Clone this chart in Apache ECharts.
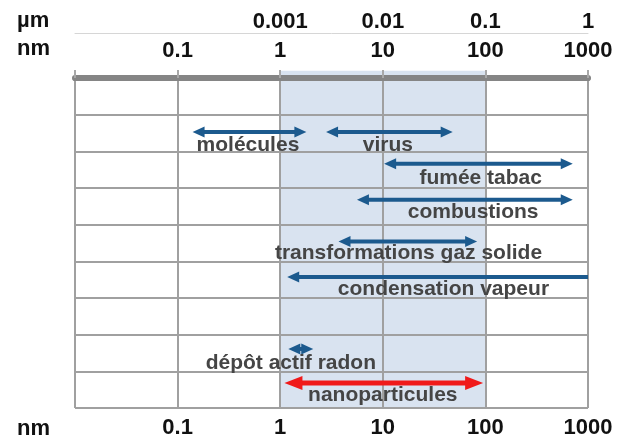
<!DOCTYPE html>
<html><head><meta charset="utf-8">
<script src="https://cdn.jsdelivr.net/npm/echarts@6/dist/echarts.min.js"></script>
<style>html,body{margin:0;padding:0;background:#fff}#c{width:621px;height:439px}</style>
</head><body><div id="c"></div>
<script>
// data (sizes in nm, rows counted from the top border)
const names = ['molécules','virus','fumée tabac','combustions','transformations gaz solide','condensation vapeur','dépôt actif radon','nanoparticules'];
const lows = [0.14, 2.8, 10.3, 5.6, 3.7, 1.17, 1.2, 1.1];
const highs = [1.8, 48, 710, 710, 83, 1000, 2.1, 95];
const arrowRows = [1.47, 1.47, 2.34, 3.32, 4.46, 5.43, 7.39, 8.32];
const leftHeads = [1, 1, 1, 1, 1, 1, 1, 1];
const rightHeads = [1, 1, 1, 1, 1, 0, 1, 1];
const labelX = [0.485, 11.2, 90, 76, 17.8, 39, 1.27, 10];
const labelRows = [1.84, 1.84, 2.73, 3.65, 4.77, 5.77, 7.78, 8.65];
const nmTicks = [0.1, 1, 10, 100, 1000];
const nmLabels = ['0.1', '1', '10', '100', '1000'];
const umTicks = [1, 10, 100, 1000];
const umLabels = ['0.001', '0.01', '0.1', '1'];
const nanoRange = [1, 100];
const rowCount = 9;

const FONT = "'Liberation Sans', Arial, sans-serif";
function lookup(ticks, labels) {
  return function (v) {
    for (let i = 0; i < ticks.length; i++) {
      if (Math.abs(Math.log10(v) - Math.log10(ticks[i])) < 1e-6) return labels[i];
    }
    return '';
  };
}
function arrowRenderer(hl, hw, lw) {
  return function (params, api) {
    const a = api.coord([api.value(0), api.value(2)]);
    const b = api.coord([api.value(1), api.value(2)]);
    const L = api.value(3), R = api.value(4);
    const col = api.visual('color');
    const ch = [{
      type: 'line',
      shape: { x1: a[0] + (L ? hl * 0.7 : 0), y1: a[1], x2: b[0] - (R ? hl * 0.7 : 0), y2: b[1] },
      style: { stroke: col, lineWidth: lw }
    }];
    if (L) ch.push({ type: 'polygon', shape: { points: [[a[0], a[1]], [a[0] + hl, a[1] - hw], [a[0] + hl, a[1] + hw]] }, style: { fill: col } });
    if (R) ch.push({ type: 'polygon', shape: { points: [[b[0], b[1]], [b[0] - hl, b[1] - hw], [b[0] - hl, b[1] + hw]] }, style: { fill: col } });
    return { type: 'group', children: ch };
  };
}
const blueData = [], redData = [], labelData = [];
for (let i = 0; i < names.length; i++) {
  const row = [lows[i], highs[i], arrowRows[i], leftHeads[i], rightHeads[i]];
  if (names[i] === 'nanoparticules') redData.push(row); else blueData.push(row);
  labelData.push([labelX[i], labelRows[i], i]);
}

const chart = echarts.init(document.getElementById('c'), null, { renderer: 'canvas' });
chart.setOption({
  animation: false,
  backgroundColor: '#fff',
  grid: { left: 75, right: 33, top: 78, bottom: 30 },
  graphic: [
    { type: 'text', left: 17, top: 10, style: { text: 'µm', fontSize: 22, fontWeight: 'bold', fontFamily: FONT, fill: '#111' } },
    { type: 'text', left: 17, top: 38, style: { text: 'nm', fontSize: 22, fontWeight: 'bold', fontFamily: FONT, fill: '#111' } },
    { type: 'text', left: 17, top: 418, style: { text: 'nm', fontSize: 22, fontWeight: 'bold', fontFamily: FONT, fill: '#111' } }
  ],
  xAxis: [
    {
      type: 'log', logBase: 10, min: 0.01, max: 1000, position: 'bottom',
      axisLine: { show: true, lineStyle: { color: '#858585', width: 5 } },
      axisTick: { show: false },
      axisLabel: { margin: 9, fontSize: 22, fontWeight: 'bold', color: '#111', fontFamily: FONT, formatter: lookup(nmTicks, nmLabels) },
      splitLine: { show: true, lineStyle: { color: '#a0a0a0', width: 2 } }
    },
    {
      type: 'log', logBase: 10, min: 0.01, max: 1000, position: 'top',
      axisLine: { show: true, lineStyle: { color: '#858585', width: 6 } },
      axisTick: { show: true, length: 8, lineStyle: { color: '#a8a8a8', width: 2 } },
      axisLabel: { margin: 16, fontSize: 22, fontWeight: 'bold', color: '#111', fontFamily: FONT, formatter: lookup(nmTicks, nmLabels) },
      splitLine: { show: false }
    },
    {
      type: 'log', logBase: 10, min: 0.01, max: 1000, position: 'top', offset: 45,
      axisLine: { show: true, lineStyle: { color: '#d6d6d6', width: 1 } },
      axisTick: { show: false },
      axisLabel: { margin: 0, fontSize: 22, fontWeight: 'bold', color: '#111', fontFamily: FONT, formatter: lookup(umTicks, umLabels) },
      splitLine: { show: false }
    }
  ],
  yAxis: {
    type: 'value', min: 0, max: rowCount, interval: 1, inverse: true,
    axisLine: { show: false }, axisTick: { show: false }, axisLabel: { show: false },
    splitLine: { show: true, lineStyle: { color: '#a0a0a0', width: 2 } }
  },
  series: [
    {
      type: 'custom', z: -1, silent: true,
      data: [[nanoRange[0], nanoRange[1]]],
      encode: { x: [0, 1] },
      renderItem: function (params, api) {
        const a = api.coord([api.value(0), -0.2]);
        const b = api.coord([api.value(1), rowCount]);
        return { type: 'rect', shape: { x: a[0], y: a[1], width: b[0] - a[0], height: b[1] - a[1] }, style: { fill: '#d9e3f0' } };
      }
    },
    {
      type: 'custom', name: 'sources', itemStyle: { color: '#1c5a8e' }, silent: true,
      data: blueData, encode: { x: [0, 1], y: 2 },
      renderItem: arrowRenderer(12, 5.5, 4)
    },
    {
      type: 'custom', name: 'nano', itemStyle: { color: '#f01a1a' }, silent: true, z: 3,
      data: redData, encode: { x: [0, 1], y: 2 },
      renderItem: arrowRenderer(18, 7, 5)
    },
    {
      type: 'custom', name: 'labels', silent: true, z: 4,
      data: labelData, encode: { x: 0, y: 1 },
      renderItem: function (params, api) {
        const p = api.coord([api.value(0), api.value(1)]);
        return {
          type: 'text', x: p[0], y: p[1],
          style: { text: names[api.value(2)], fontSize: 21, fontWeight: 'bold', fontFamily: FONT, fill: '#454545', align: 'center', verticalAlign: 'middle' }
        };
      }
    }
  ]
});
</script>
</body></html>
